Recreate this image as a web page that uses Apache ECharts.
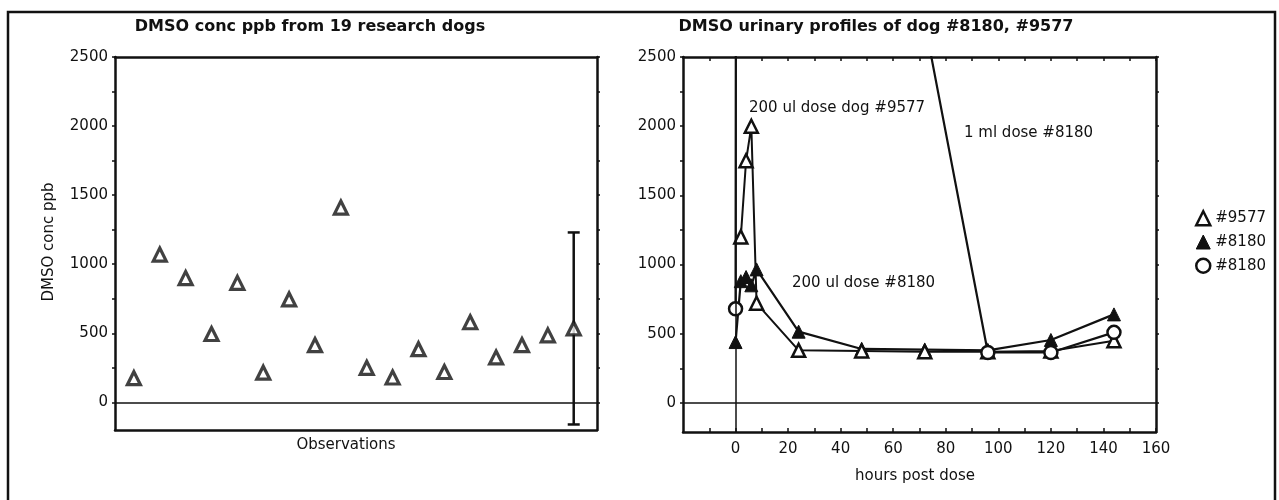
<!DOCTYPE html>
<html>
<head>
<meta charset="utf-8">
<script src="https://cdn.jsdelivr.net/npm/echarts@6/dist/echarts.min.js"></script>
<style>
html,body{margin:0;padding:0;background:#fff;}
#chart{width:1279px;height:500px;}
</style>
</head>
<body>
<div id="chart"></div>
<script>
// ---- Left panel: DMSO conc ppb from 19 research dogs ----
const obsIndex = [1,2,3,4,5,6,7,8,9,10,11,12,13,14,15,16,17];
const obsValues = [175,1070,900,495,865,215,745,415,1410,250,180,385,220,580,325,415,485];
const meanIndex = [18];
const meanValue = [535];
const meanErrLow = [-160];
const meanErrHigh = [1230];

// ---- Right panel: DMSO urinary profiles ----
const hours9577 = [2,4,6,8,24,48,72,96,120,144];
const vals9577 = [1200,1750,2000,720,380,375,370,370,375,450];
const hours8180a = [0,2,4,6,8,24,48,72,96,120,144];
const vals8180a = [440,880,910,850,965,515,390,385,380,455,640];
const hours8180b = [0,2,24,48,72,96,120,144];
const vals8180b = [680,40000,20000,8000,2750,365,365,510];

const yLabelTicks = [0,500,1000,1500,2000,2500];
const yMinorTicks = [0,250,500,750,1000,1250,1500,1750,2000,2250,2500];
const xLabelTicks = [0,20,40,60,80,100,120,140,160];
const xMinorTicks = [-10,0,10,20,30,40,50,60,70,80,90,100,110,120,130,140,150,160];

const FONT = 'DejaVu Sans';
const INK = '#111111';

const zip = (a,b) => a.map((v,i)=>[v,b[i]]);

const chart = echarts.init(document.getElementById('chart'), null, {renderer:'canvas'});

const lineAxis = {show:true, onZero:false, lineStyle:{color:INK, width:2.5}};
const lblStyle = {fontFamily:FONT, fontSize:15, color:INK, formatter:(v)=>String(v)};
const tickStyle = {color:INK, width:1.5};

const option = {
  backgroundColor:'#ffffff',
  animation:false,
  grid:[
    {left:115, right:682, top:57, bottom:70},
    {left:683, right:123, top:57, bottom:68}
  ],
  xAxis:[
    {gridIndex:0, type:'value', min:0.27, max:18.9, position:'bottom',
     axisLine:lineAxis, axisTick:{show:false}, axisLabel:{show:false}, splitLine:{show:false}},
    {gridIndex:0, type:'value', min:0.27, max:18.9, position:'top',
     axisLine:lineAxis, axisTick:{show:false}, axisLabel:{show:false}, splitLine:{show:false}},
    {gridIndex:1, type:'value', min:-20, max:160, interval:20, position:'bottom',
     axisLine:lineAxis,
     axisTick:{show:true, inside:true, length:4, customValues:xMinorTicks, lineStyle:tickStyle},
     axisLabel:Object.assign({margin:10, customValues:xLabelTicks}, lblStyle),
     splitLine:{show:false}},
    {gridIndex:1, type:'value', min:-20, max:160, interval:20, position:'top',
     axisLine:lineAxis,
     axisTick:{show:true, inside:true, length:4, customValues:xMinorTicks, lineStyle:tickStyle},
     axisLabel:{show:false}, splitLine:{show:false}}
  ],
  yAxis:[
    {gridIndex:0, type:'value', min:-200, max:2500, position:'left',
     axisLine:lineAxis,
     axisTick:{show:true, length:3, customValues:yMinorTicks, lineStyle:tickStyle},
     axisLabel:Object.assign({margin:7, customValues:yLabelTicks}, lblStyle),
     splitLine:{show:false}},
    {gridIndex:0, type:'value', min:-200, max:2500, position:'right',
     axisLine:lineAxis,
     axisTick:{show:true, length:3, customValues:yMinorTicks, lineStyle:tickStyle},
     axisLabel:{show:false}, splitLine:{show:false}},
    {gridIndex:1, type:'value', min:-210, max:2500, position:'left',
     axisLine:lineAxis,
     axisTick:{show:true, length:3, customValues:yMinorTicks, lineStyle:tickStyle},
     axisLabel:Object.assign({margin:7, customValues:yLabelTicks}, lblStyle),
     splitLine:{show:false}},
    {gridIndex:1, type:'value', min:-210, max:2500, position:'right',
     axisLine:lineAxis,
     axisTick:{show:true, length:3, customValues:yMinorTicks, lineStyle:tickStyle},
     axisLabel:{show:false}, splitLine:{show:false}}
  ],
  legend:{
    orient:'vertical', left:1190, top:205, itemWidth:14, itemHeight:14, itemGap:8,
    selectedMode:false,
    textStyle:{fontFamily:FONT, fontSize:15, color:INK},
    data:[
      {name:'#9577', icon:'triangle', itemStyle:{color:'#fff', borderColor:INK, borderWidth:2.5}},
      {name:'#8180', icon:'triangle', itemStyle:{color:INK, borderColor:INK, borderWidth:1}},
      {name:'#8180 ', icon:'circle', itemStyle:{color:'#fff', borderColor:INK, borderWidth:2.5}}
    ]
  },
  series:[
    {type:'scatter', name:'obs', xAxisIndex:0, yAxisIndex:0,
     symbol:'triangle', symbolSize:13,
     itemStyle:{color:'#fff', borderColor:INK, borderWidth:3.2},
     data:zip(obsIndex, obsValues),
     markLine:{silent:true, symbol:'none', label:{show:false},
       lineStyle:{color:INK, width:1.5, type:'solid'}, data:[{yAxis:0}]}
    },
    {type:'custom', name:'err', xAxisIndex:0, yAxisIndex:0,
     data:meanIndex.map((x,i)=>[x, meanErrLow[i], meanErrHigh[i]]),
     encode:{x:0, y:[1,2]},
     renderItem:function(params, api){
       const x = api.value(0);
       const lo = api.coord([x, api.value(1)]);
       const hi = api.coord([x, api.value(2)]);
       const w = 6;
       const st = {stroke:INK, lineWidth:2.5};
       return {type:'group', children:[
         {type:'line', shape:{x1:lo[0], y1:lo[1], x2:hi[0], y2:hi[1]}, style:st},
         {type:'line', shape:{x1:lo[0]-w, y1:lo[1], x2:lo[0]+w, y2:lo[1]}, style:st},
         {type:'line', shape:{x1:hi[0]-w, y1:hi[1], x2:hi[0]+w, y2:hi[1]}, style:st}
       ]};
     }
    },
    {type:'scatter', name:'mean', xAxisIndex:0, yAxisIndex:0,
     symbol:'triangle', symbolSize:13, z:5,
     itemStyle:{color:'#fff', borderColor:INK, borderWidth:3.2},
     data:zip(meanIndex, meanValue)
    },
    {type:'line', name:'#8180', xAxisIndex:2, yAxisIndex:2,
     symbol:'triangle', symbolSize:13, showAllSymbol:true,
     lineStyle:{color:INK, width:2.2},
     itemStyle:{color:INK, borderColor:INK, borderWidth:1},
     data:zip(hours8180a, vals8180a),
     markLine:{silent:true, symbol:'none', label:{show:false},
       lineStyle:{color:INK, width:1.5, type:'solid'}, data:[{yAxis:0},{xAxis:0}]}
    },
    {type:'line', name:'#9577', xAxisIndex:2, yAxisIndex:2,
     symbol:'triangle', symbolSize:13, showAllSymbol:true,
     lineStyle:{color:INK, width:2},
     itemStyle:{color:'#fff', borderColor:INK, borderWidth:2.5},
     data:zip(hours9577, vals9577)
    },
    {type:'line', name:'#8180 ', xAxisIndex:2, yAxisIndex:2,
     symbol:'circle', symbolSize:13, showAllSymbol:true, clip:true,
     lineStyle:{color:INK, width:2.2},
     itemStyle:{color:'#fff', borderColor:INK, borderWidth:2.5},
     data:zip(hours8180b, vals8180b)
    }
  ],
  graphic:[
    {type:'polyline', silent:true, shape:{points:[[8,500],[8,12],[1275,12],[1275,500]]},
     style:{stroke:INK, lineWidth:2.5, fill:null}},
    {type:'text', x:310, y:27, style:{text:'DMSO conc ppb from 19 research dogs', font:'bold 16px "DejaVu Sans"', fill:INK, textAlign:'center', textVerticalAlign:'middle'}},
    {type:'text', x:876, y:27, style:{text:'DMSO urinary profiles of dog #8180, #9577', font:'bold 16px "DejaVu Sans"', fill:INK, textAlign:'center', textVerticalAlign:'middle'}},
    {type:'text', x:49, y:242, rotation:Math.PI/2, style:{text:'DMSO conc ppb', font:'15px "DejaVu Sans"', fill:INK, textAlign:'center', textVerticalAlign:'middle'}},
    {type:'text', x:346, y:445, style:{text:'Observations', font:'15px "DejaVu Sans"', fill:INK, textAlign:'center', textVerticalAlign:'middle'}},
    {type:'text', x:915, y:476, style:{text:'hours post dose', font:'15px "DejaVu Sans"', fill:INK, textAlign:'center', textVerticalAlign:'middle'}},
    {type:'text', x:749, y:108, style:{text:'200 ul dose dog #9577', font:'15px "DejaVu Sans"', fill:INK, textAlign:'left', textVerticalAlign:'middle'}},
    {type:'text', x:964, y:133, style:{text:'1 ml dose #8180', font:'15px "DejaVu Sans"', fill:INK, textAlign:'left', textVerticalAlign:'middle'}},
    {type:'text', x:792, y:283, style:{text:'200 ul dose #8180', font:'15px "DejaVu Sans"', fill:INK, textAlign:'left', textVerticalAlign:'middle'}}
  ]
};
chart.setOption(option);
</script>
</body>
</html>
